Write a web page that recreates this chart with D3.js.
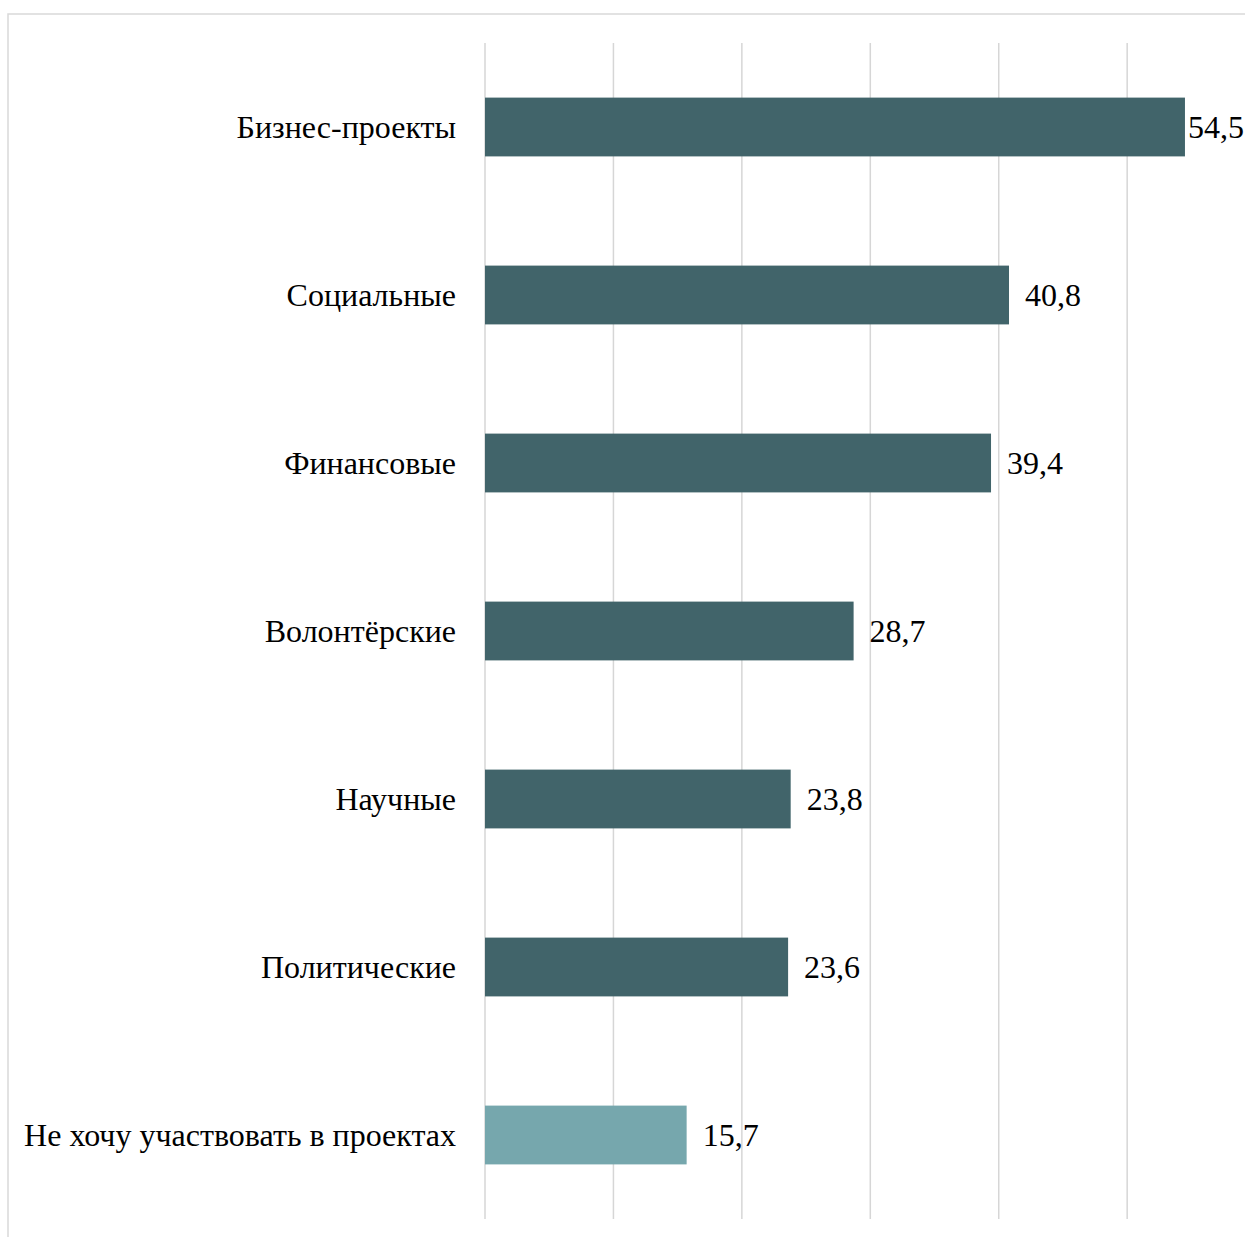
<!DOCTYPE html>
<html><head><meta charset="utf-8">
<script src="https://cdn.jsdelivr.net/npm/d3@7"></script>
<style>html,body{margin:0;padding:0;background:#fff;overflow:hidden}</style>
</head><body>
<script>
const categories = ["Бизнес-проекты","Социальные","Финансовые","Волонтёрские","Научные","Политические","Не хочу участвовать в проектах"];
const values = [54.5,40.8,39.4,28.7,23.8,23.6,15.7];
const valueLabels = ["54,5","40,8","39,4","28,7","23,8","23,6","15,7"];
const gridTicks = [0,10,20,30,40,50,60];
const barColors = ["#41646a","#41646a","#41646a","#41646a","#41646a","#41646a","#76a7ad"];

const W=1245,H=1237;
const svg=d3.select("body").append("svg").attr("width",W).attr("height",H);
svg.append("rect").attr("x",8).attr("y",14).attr("width",W).attr("height",H).attr("fill","#fff").attr("stroke","#d9d9d9").attr("stroke-width",1.5);

const x=d3.scaleLinear().domain([0,60]).range([485,1255.6]);
const y=d3.scaleBand().domain(categories).range([43,1219]).paddingInner(0.65).paddingOuter(0.325);

svg.append("g").selectAll("line").data(gridTicks).join("line")
 .attr("x1",d=>x(d)).attr("x2",d=>x(d)).attr("y1",43).attr("y2",1219)
 .attr("stroke","#d6d6d6").attr("stroke-width",1.5);

svg.append("g").selectAll("rect").data(categories).join("rect")
 .attr("x",x(0)).attr("y",d=>y(d)).attr("width",(d,i)=>x(values[i])-x(0)).attr("height",y.bandwidth())
 .attr("fill",(d,i)=>barColors[i]);

const font="'Liberation Serif','Times New Roman',serif";
svg.append("g").selectAll("text").data(categories).join("text")
 .attr("x",456).attr("y",d=>y(d)+y.bandwidth()/2).attr("dy","0.33em")
 .attr("text-anchor","end").attr("font-family",font).attr("font-size",32).attr("fill","#000")
 .text(d=>d);

svg.append("g").selectAll("text").data(categories).join("text")
 .attr("y",d=>y(d)+y.bandwidth()/2).attr("dy","0.33em")
 .attr("font-family",font).attr("font-size",32).attr("fill","#000")
 .text((d,i)=>valueLabels[i])
 .attr("x",function(d,i){const w=this.getComputedTextLength();return Math.min(x(values[i])+16, W-1-w);});
</script>
</body></html>
